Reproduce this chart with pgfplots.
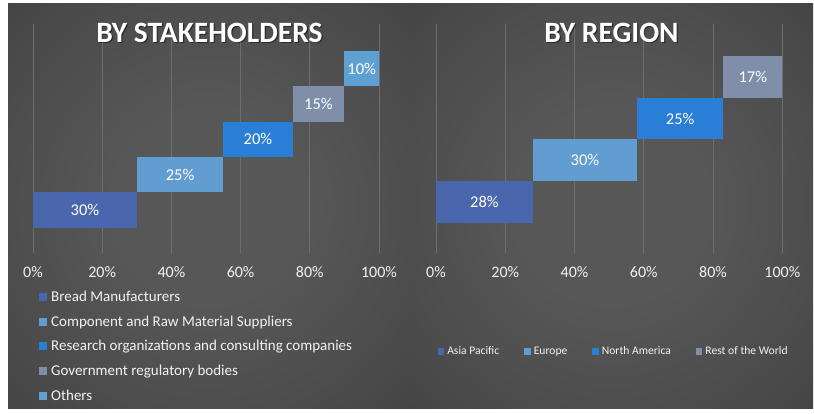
\documentclass[border=0pt]{standalone}
\usepackage{pgfplots}
\pgfplotsset{compat=1.18}
\usepackage{fontspec}
\setmainfont{Carlito}
\definecolor{cA}{HTML}{4A66AC}
\definecolor{cB}{HTML}{629DD1}
\definecolor{cC}{HTML}{297FD5}
\definecolor{cD}{HTML}{7F8FA9}
\definecolor{cE}{HTML}{5FA0D3}
\definecolor{bgin}{HTML}{575757}
\definecolor{bgmid}{HTML}{4A4A4A}
\definecolor{bgout}{HTML}{333333}
\definecolor{gridc}{HTML}{6E6E6E}
\definecolor{txt}{HTML}{F2F2F2}
\pgfdeclareradialshading{bgshade}{\pgfpointorigin}{color(0bp)=(bgin); color(12bp)=(bgin); color(30bp)=(bgmid); color(50bp)=(bgout)}
\newcommand\barfont{\fontsize{16.5}{18}\selectfont}
\newcommand\titlefont{\fontsize{29.5}{32}\selectfont\bfseries}
\pgfplotsset{
  panel/.style={
    anchor=south west, scale only axis,
    xmin=0, xmax=100,
    axis line style={draw=none}, tick style={draw=none},
    ytick=\empty,
    xtick={0,20,40,60,80,100},
    xticklabels={0\%,20\%,40\%,60\%,80\%,100\%},
    xmajorgrids, grid style={gridc, line width=0.8pt},
    xticklabel style={font=\fontsize{16}{18}\selectfont, text=txt, yshift=-10pt},
    clip=false,
    legend cell align=left,
  },
}
\begin{document}
\begin{tikzpicture}[x=1pt,y=1pt]
\useasboundingbox (0,0) rectangle (814,413);
\fill[white] (0,0) rectangle (814,413);
\fill[bgout] (8,5) rectangle (410,409);
\shade[shading=bgshade] (8,5) rectangle (410,409);
\fill[bgout] (410,5) rectangle (813,409);
\shade[shading=bgshade] (410,5) rectangle (813,409);

\begin{axis}[panel,
  at={(33pt,160pt)}, width=346pt, height=229pt,
  ymin=-0.2155, ymax=6.258,
  legend image code/.code={\fill[#1, line width=0pt] (0pt,-3.5pt) rectangle (7pt,3.5pt); \path[draw=none, fill=none] (0pt,0pt) -- (10pt,0pt);},
  legend style={at={(0.0173,-0.155)}, anchor=north west, draw=none, fill=none,
    font=\fontsize{15}{17}\selectfont, text=txt, row sep=9pt, inner sep=0pt},
]
\addplot[color=cA, line width=35.4pt] coordinates {(0,1) (30,1)} node[pos=0.5, text=white, font=\barfont] {30\%};
\addlegendentry{Bread Manufacturers}
\addplot[color=cB, line width=35.4pt] coordinates {(30,2) (55,2)} node[pos=0.5, text=white, font=\barfont] {25\%};
\addlegendentry{Component and Raw Material Suppliers}
\addplot[color=cC, line width=35.4pt] coordinates {(55,3) (75,3)} node[pos=0.5, text=white, font=\barfont] {20\%};
\addlegendentry{Research organizations and consulting companies}
\addplot[color=cD, line width=35.4pt] coordinates {(75,4) (90,4)} node[pos=0.5, text=white, font=\barfont] {15\%};
\addlegendentry{Government regulatory bodies}
\addplot[color=cE, line width=35.4pt] coordinates {(90,5) (100,5)} node[pos=0.5, text=white, font=\barfont] {10\%};
\addlegendentry{Others}
\end{axis}

\begin{axis}[panel,
  at={(436pt,160pt)}, width=346.3pt, height=229pt,
  ymin=-0.231, ymax=5.274,
  legend columns=4,
  legend image code/.code={\fill[#1, line width=0pt] (0pt,-2.75pt) rectangle (5.5pt,2.75pt); \path[draw=none, fill=none] (0pt,0pt) -- (7pt,0pt);},
  legend style={at={(0.006,-0.43)}, anchor=west, draw=none, fill=none,
    font=\fontsize{11.6}{13}\selectfont, text=txt, inner sep=0pt,
    /tikz/every even column/.append style={column sep=23.5pt}},
]
\addplot[color=cA, line width=41.6pt] coordinates {(0,1) (28,1)} node[pos=0.5, text=white, font=\barfont] {28\%};
\addlegendentry{Asia Pacific}
\addplot[color=cB, line width=41.6pt] coordinates {(28,2) (58,2)} node[pos=0.5, text=white, font=\barfont] {30\%};
\addlegendentry{Europe}
\addplot[color=cC, line width=41.6pt] coordinates {(58,3) (83,3)} node[pos=0.5, text=white, font=\barfont] {25\%};
\addlegendentry{North America}
\addplot[color=cD, line width=41.6pt] coordinates {(83,4) (100,4)} node[pos=0.5, text=white, font=\barfont] {17\%};
\addlegendentry{Rest of the World}
\end{axis}

\node[font=\titlefont, text=black, opacity=0.45] at (210.7,378.8) {BY STAKEHOLDERS};
\node[font=\titlefont, text=white] at (209.5,380) {BY STAKEHOLDERS};
\node[font=\titlefont, text=black, opacity=0.45] at (612.7,378.8) {BY REGION};
\node[font=\titlefont, text=white] at (611.5,380) {BY REGION};
\end{tikzpicture}
\end{document}
